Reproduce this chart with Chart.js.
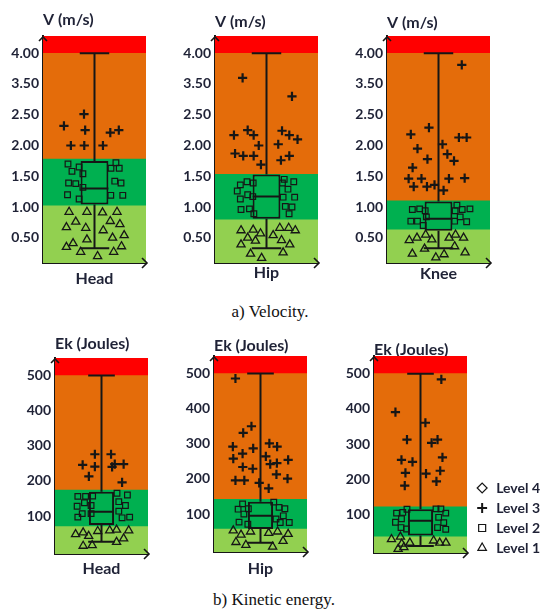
<!DOCTYPE html>
<html>
<head>
<meta charset="utf-8">
<title>Velocity and kinetic energy levels</title>
<script src="https://cdn.jsdelivr.net/npm/chart.js@4.4.1/dist/chart.umd.min.js"></script>
<style>
  html, body { margin:0; padding:0; background:#ffffff; }
  body { position:relative; width:542px; height:612px; overflow:hidden; }
  canvas { position:absolute; }
  .caption { position:absolute; font-family:"Liberation Serif","Times New Roman",serif; font-size:17px; line-height:20px; color:#111; white-space:nowrap; transform:translateX(-50%); }
</style>
</head>
<body>
<div class="caption" style="left:270px;top:302px">a) Velocity.</div>
<div class="caption" style="left:274px;top:590px">b) Kinetic energy.</div>
<script>
// ================= DATA =================
const segments = ['Head', 'Hip', 'Knee'];
const levelNames = ['Level 1', 'Level 2', 'Level 3', 'Level 4'];
const legendLevels = ['Level 4', 'Level 3', 'Level 2', 'Level 1'];

// ---- a) Velocity (values in axis units; tick labels as printed in the figure) ----
const velTitle = 'V (m/s)';
const velTickValues = [0.5, 1.0, 1.5, 2.0, 2.5, 3.0, 3.5];
const velTickLabels = ['0.50', '1.00', '1.50', '2.00', '2.50', '3.50', '4.00'];
const velAxisRange = [0.09, 3.78];

// zone boundaries: [Level1/Level2, Level2/Level3, Level3/Level4]
const velZonesHead = [1.02, 1.78, 3.5];
const velZonesHip  = [0.79, 1.53, 3.5];
const velZonesKnee = [0.63, 1.10, 3.5];

// box plot: [min, q1, median, q3, max]
const velBoxHead = [0.33, 1.04, 1.30, 1.75, 3.5];
const velBoxHip  = [0.33, 0.81, 1.17, 1.53, 3.5];
const velBoxKnee = [0.33, 0.615, 0.81, 1.09, 3.5];

// samples: [horizontal jitter 0-100, value]
const velHeadLevel3 = [[5.5,2.32],[34.7,2.51],[36.4,2.25],[15.6,2.00],[35.1,2.00],[62.3,2.00],[73,2.21],[85.4,2.25]];
const velHeadLevel2 = [[11.4,1.70],[17.2,1.58],[27.6,1.65],[33.1,1.54],[12.3,1.39],[22.7,1.38],[33.1,1.32],[10.7,1.20],[27.6,1.13],
                       [74,1.63],[81.2,1.72],[86,1.63],[79.5,1.42],[88.6,1.39],[73.7,1.19],[91.2,1.19]];
const velHeadLevel1 = [[13,0.92],[39,0.92],[61.7,0.91],[82.8,0.92],[22.7,0.76],[9.1,0.67],[37.3,0.66],[73,0.77],[87,0.72],[62.7,0.62],
                       [39,0.47],[76.3,0.50],[93.2,0.54],[9.1,0.35],[18.8,0.41],[29.9,0.27],[89.3,0.36],[77.9,0.27],[54.5,0.20]];

const velHipLevel3 = [[15.2,3.10],[2.6,2.17],[22.6,2.25],[31.3,2.17],[38.7,2.00],[4.2,1.87],[16.1,1.83],[31.3,1.83],[41.9,1.69],
                      [87.1,2.80],[72.6,2.24],[83.2,2.17],[95.2,2.10],[67.1,2.02],[71,1.76],[83.2,1.83]];
const velHipLevel2 = [[11.9,1.36],[7.4,1.26],[21.6,1.41],[30.6,1.39],[11.9,1.13],[22.6,1.20],[30,1.17],[12.9,0.96],[25.2,0.97],[31.6,0.89],
                      [75.8,1.45],[73.2,1.39],[81.3,1.29],[89.7,1.41],[74.2,1.16],[91,1.16],[77.4,1.01],[87.1,1.00],[82.9,0.89]];
const velHipLevel1 = [[12.9,0.62],[22.6,0.50],[30.6,0.63],[41.3,0.57],[12.9,0.39],[33.9,0.45],[26.8,0.24],[42.9,0.17],
                      [59.7,0.54],[69.4,0.66],[82.3,0.66],[91.9,0.62],[71.9,0.46],[83.9,0.39],[74.2,0.26]];

const velKneeLevel3 = [[83.9,3.31],[9.7,2.18],[36.1,2.29],[19.4,1.95],[12.3,1.64],[33.9,1.78],[6.5,1.46],[13.9,1.33],[25.2,1.46],[33.2,1.33],
                       [44.2,1.36],[55.8,2.02],[62.9,1.86],[72.6,1.75],[79.7,2.13],[91,2.13],[65.2,1.46],[57.4,1.27],[88.1,1.47]];
const velKneeLevel2 = [[11.9,0.96],[22.6,0.97],[30.6,0.94],[32.3,0.84],[9.7,0.77],[19.4,0.77],[27.7,0.70],
                       [76.8,1.03],[74.2,0.94],[84.5,0.96],[95.8,0.97],[81.6,0.84],[73.5,0.77],[91,0.76]];
const velKneeLevel1 = [[7.4,0.46],[18.7,0.50],[31.3,0.55],[40.3,0.47],[11.9,0.24],[29.7,0.32],[46.1,0.18],
                       [58.1,0.23],[65.5,0.50],[74.8,0.55],[86.5,0.50],[73.5,0.36],[88.7,0.26]];

// ---- b) Kinetic energy ----
const ekTitle = 'Ek (Joules)';
const ekTickValues = [100, 200, 300, 400, 500];
const ekTickLabels = ['100', '200', '300', '400', '500'];
const ekAxisRange = [-8, 550];

const ekZonesHead = [70, 174, 500];
const ekZonesHip  = [57, 142, 500];
const ekZonesKnee = [38, 123, 500];

const ekBoxHead = [27, 74.5, 112, 169, 500];
const ekBoxHip  = [18.5, 57.5, 95, 135, 500];
const ekBoxKnee = [12, 41.3, 83.5, 116, 500];

const ekHeadLevel3 = [[19.6,246],[29.6,213],[39.3,276],[39.3,241],[65.4,276],[67.1,240],[71.4,248],[85.7,248],[83.2,196]];
const ekHeadLevel2 = [[11.8,156],[24.3,156],[35.7,157],[22.5,138],[10.7,128],[33.2,130],[11.8,97],[18.9,107],[33.2,107],
                      [75,165],[91.8,160],[77.9,141],[88.6,130],[77.9,114],[83.2,95],[95.4,97]];
const ekHeadLevel1 = [[8.2,48],[20.4,53],[29.3,43],[43.9,57],[63.2,59],[74.3,61],[93.9,59],[20.4,15],[35,17],[74.3,26],[85.7,36]];

const ekHipLevel3 = [[9.6,486],[22.1,331],[35.4,350],[5.4,292],[6.1,258],[21.1,272],[21.4,234],[38.2,287],[37.5,229],[9.6,196],
                     [23.9,196],[47.9,189],[58.6,264],[64.3,301],[65.7,242],[63.2,173],[76.8,292],[76.4,245],[75.7,213],[94.6,254],[93.6,201]];
const ekHipLevel2 = [[21.1,129],[13.9,114],[23.2,100],[30.4,115],[15.4,77],[29.6,71],
                     [71.4,134],[80,119],[89.3,115],[86.8,95],[75,86],[81.8,76],[96.4,76]];
const ekHipLevel1 = [[6.1,53],[18.6,41],[33.9,50],[10.4,20],[26.4,12],[63.2,46],[77.5,50],[94.6,43],[86.4,23],[69.6,7]];

const ekKneeLevel3 = [[83.6,484],[9.6,391],[28.2,313],[19.3,256],[37.1,250],[25.7,219],[24.6,183],
                      [57.9,361],[67.9,304],[77.5,313],[85.4,263],[58.9,217],[81.8,225],[75.7,195]];
const ekKneeLevel2 = [[11.4,105],[21.4,107],[28.2,116],[9.6,79],[19.3,89],[18.6,64],[27.5,60],
                      [75,117],[82.9,117],[90.7,105],[79.3,93],[87.5,78],[77.5,64],[90.7,59]];
const ekKneeLevel1 = [[3.2,31],[17.6,38],[19.7,18],[32.9,21],[13.9,3],[23.2,8],[71.1,27],[81,21],[91,21]];

// ================= STYLE =================
const INK = '#161616';
const TEXT = '#1f2236';
const FONT = 'Lato, "Open Sans", "DejaVu Sans", sans-serif';
const ZONE_COLORS = ['#92D050', '#00B050', '#E46C0A', '#FF0000'];
const BOX_COLOR = '#00B050';
const MARKERS = [
  { pointStyle: 'triangle', pointRadius: 4.7, pointBorderWidth: 1.3 },
  { pointStyle: 'rect',     pointRadius: 4.0, pointBorderWidth: 1.2 },
  { pointStyle: 'cross',    pointRadius: 4.6, pointBorderWidth: 2.2 }
];
const LEGEND_MARKERS = ['rectRot', 'cross', 'rect', 'triangle'];

// whiskers, caps and median of the box plot (drawn from the box dataset's stats via the y scale)
const whiskerPlugin = {
  id: 'whiskers',
  afterDatasetsDraw(chart) {
    const ds = chart.data.datasets;
    const bi = ds.findIndex(d => d.boxStats);
    if (bi < 0) return;
    const s = ds[bi].boxStats;
    const bar = chart.getDatasetMeta(bi).data[0];
    const ys = chart.scales.y;
    const P = v => ys.getPixelForValue(v);
    const ctx = chart.ctx;
    const xc = bar.x, hw = bar.width / 2, cw = hw * 1.06;
    ctx.save();
    ctx.strokeStyle = INK; ctx.lineWidth = 2;
    ctx.beginPath();
    ctx.moveTo(xc - hw, P(s[2])); ctx.lineTo(xc + hw, P(s[2]));
    ctx.moveTo(xc, P(s[3])); ctx.lineTo(xc, P(s[4]));
    ctx.moveTo(xc - cw, P(s[4])); ctx.lineTo(xc + cw, P(s[4]));
    ctx.moveTo(xc, P(s[1])); ctx.lineTo(xc, P(s[0]));
    ctx.moveTo(xc - cw, P(s[0])); ctx.lineTo(xc + cw, P(s[0]));
    ctx.stroke();
    ctx.restore();
  }
};

// arrow heads at the ends of the axes
const arrowPlugin = {
  id: 'axisArrows',
  afterDraw(chart) {
    const { left, right, top, bottom } = chart.chartArea;
    const ctx = chart.ctx;
    ctx.save();
    ctx.strokeStyle = INK; ctx.lineWidth = 1.6;
    ctx.beginPath();
    ctx.moveTo(left - 4, top + 5); ctx.lineTo(left, top + 1); ctx.lineTo(left + 4, top + 5);
    ctx.moveTo(right - 4, bottom - 5); ctx.lineTo(right + 1, bottom); ctx.lineTo(right - 4, bottom + 5);
    ctx.stroke();
    ctx.restore();
  }
};

function buildPanel(p) {
  const cv = document.createElement('canvas');
  cv.width = p.w; cv.height = p.h;
  Object.assign(cv.style, { left: p.left + 'px', top: p.top + 'px', width: p.w + 'px', height: p.h + 'px' });
  document.body.appendChild(cv);

  const [yMin, yMax] = p.range;
  const b = p.zones;
  const bounds = [[yMin, b[0]], [b[0], b[1]], [b[1], b[2]], [b[2], yMax]];
  const datasets = [];

  p.points.forEach((pts, i) => {
    datasets.push(Object.assign({
      type: 'scatter', label: levelNames[i], xAxisID: 'xp', yAxisID: 'y', order: 0,
      data: pts.map(([x, y]) => ({ x, y })),
      backgroundColor: 'rgba(0,0,0,0)', borderColor: INK,
      pointBackgroundColor: 'rgba(0,0,0,0)', pointBorderColor: INK
    }, MARKERS[i]));
  });

  datasets.push({
    type: 'bar', label: p.segment + ' box', xAxisID: 'x', yAxisID: 'y', order: 1, grouped: false,
    data: [[p.box[1], p.box[3]]], boxStats: p.box,
    backgroundColor: BOX_COLOR, borderColor: INK, borderWidth: 2, borderSkipped: false,
    barPercentage: 0.27, categoryPercentage: 1
  });

  bounds.forEach((r, i) => datasets.push({
    type: 'bar', label: levelNames[i] + ' zone', xAxisID: 'x', yAxisID: 'y', order: 2, grouped: false,
    data: [r], backgroundColor: ZONE_COLORS[i], borderWidth: 0,
    barPercentage: 1, categoryPercentage: 1
  }));

  const scales = {
    x: {
      type: 'category', position: 'bottom', offset: true,
      grid: { display: false, drawTicks: false },
      border: { display: true, color: INK, width: 2 },
      ticks: { color: TEXT, font: { family: FONT, weight: 'bold', size: 16 }, padding: p.xPad, maxRotation: 0 },
      afterFit: s => { s.height = p.xH; }
    },
    xp: { type: 'linear', display: false, min: 0, max: 100 },
    y: {
      type: 'linear', position: 'left', min: yMin, max: yMax,
      grid: { display: false, drawTicks: false },
      border: { display: true, color: INK, width: 2 },
      afterBuildTicks: s => { s.ticks = p.tickValues.map(v => ({ value: v })); },
      ticks: { color: TEXT, font: { family: FONT, weight: 'bold', size: 14 }, padding: 4,
               callback: (v, i) => p.tickLabels[i] },
      afterFit: s => { s.width = 40; }
    }
  };
  if (p.legend) {
    // spacer between plot and legend, sized so the plot keeps its width
    scales.yr = {
      position: 'right', display: true,
      grid: { display: false, drawTicks: false }, border: { display: false },
      ticks: { display: false },
      afterFit: s => {
        const lw = s.chart.legend ? s.chart.legend.width : 0;
        s.width = Math.max(0, p.w - p.pad.left - p.pad.right - lw - 40 - p.plotW);
      }
    };
  }

  const legend = p.legend ? {
    display: true, position: 'right', align: 'end', maxWidth: 150,
    labels: {
      usePointStyle: true, boxWidth: 14, boxHeight: 7, padding: 6, color: TEXT,
      font: { family: FONT, weight: 'bold', size: 14 },
      generateLabels: () => legendLevels.map((t, i) => ({
        text: t, pointStyle: LEGEND_MARKERS[i], fillStyle: 'rgba(0,0,0,0)', strokeStyle: INK,
        lineWidth: LEGEND_MARKERS[i] === 'cross' ? 2 : 1.2, fontColor: TEXT, hidden: false
      }))
    }
  } : { display: false };

  return new Chart(cv, {
    type: 'bar',
    data: { labels: [p.segment], datasets },
    options: {
      responsive: false, animation: false, events: [],
      layout: { padding: p.pad },
      scales,
      plugins: {
        legend,
        tooltip: { enabled: false },
        title: {
          display: true, text: p.title, align: 'start', fullSize: false, color: TEXT,
          font: { family: FONT, weight: 'bold', size: 16 },
          padding: { top: p.titlePad[0], bottom: p.titlePad[1] }
        }
      }
    },
    plugins: [whiskerPlugin, arrowPlugin]
  });
}

const velCommon = { title: velTitle, tickValues: velTickValues, tickLabels: velTickLabels, range: velAxisRange,
                    top: 0, h: 300, w: 155, xH: 37, pad: { left: 0, right: 12, top: 0, bottom: 0 } };
const ekCommon  = { title: ekTitle, tickValues: ekTickValues, tickLabels: ekTickLabels, range: ekAxisRange,
                    top: 325, h: 265, w: 145, pad: { left: 0, right: 12, top: 0, bottom: 0 } };

buildPanel(Object.assign({}, velCommon, { segment: segments[0], left: 3,   titlePad: [10.4, 6.4], xPad: 6.4,
  zones: velZonesHead, box: velBoxHead, points: [velHeadLevel1, velHeadLevel2, velHeadLevel3] }));
buildPanel(Object.assign({}, velCommon, { segment: segments[1], left: 175, titlePad: [12.4, 4.4], xPad: 0,
  zones: velZonesHip, box: velBoxHip, points: [velHipLevel1, velHipLevel2, velHipLevel3] }));
buildPanel(Object.assign({}, velCommon, { segment: segments[2], left: 347, titlePad: [13.4, 3.4], xPad: 1.4,
  zones: velZonesKnee, box: velBoxKnee, points: [velKneeLevel1, velKneeLevel2, velKneeLevel3] }));

buildPanel(Object.assign({}, ekCommon, { segment: segments[0], left: 15,  titlePad: [9.2, 4.6], xH: 36, xPad: 5.4,
  zones: ekZonesHead, box: ekBoxHead, points: [ekHeadLevel1, ekHeadLevel2, ekHeadLevel3] }));
buildPanel(Object.assign({}, ekCommon, { segment: segments[1], left: 174, titlePad: [11.7, 0.1], xH: 38, xPad: 7.4,
  zones: ekZonesHip, box: ekBoxHip, points: [ekHipLevel1, ekHipLevel2, ekHipLevel3] }));
buildPanel(Object.assign({}, ekCommon, { segment: segments[2], left: 334, w: 219, plotW: 93, titlePad: [14.9, -3.1], xH: 8, xPad: 6.4,
  pad: { left: 0, right: 3, top: 0, bottom: 29 }, legend: true,
  zones: ekZonesKnee, box: ekBoxKnee, points: [ekKneeLevel1, ekKneeLevel2, ekKneeLevel3] }));
</script>
</body>
</html>
